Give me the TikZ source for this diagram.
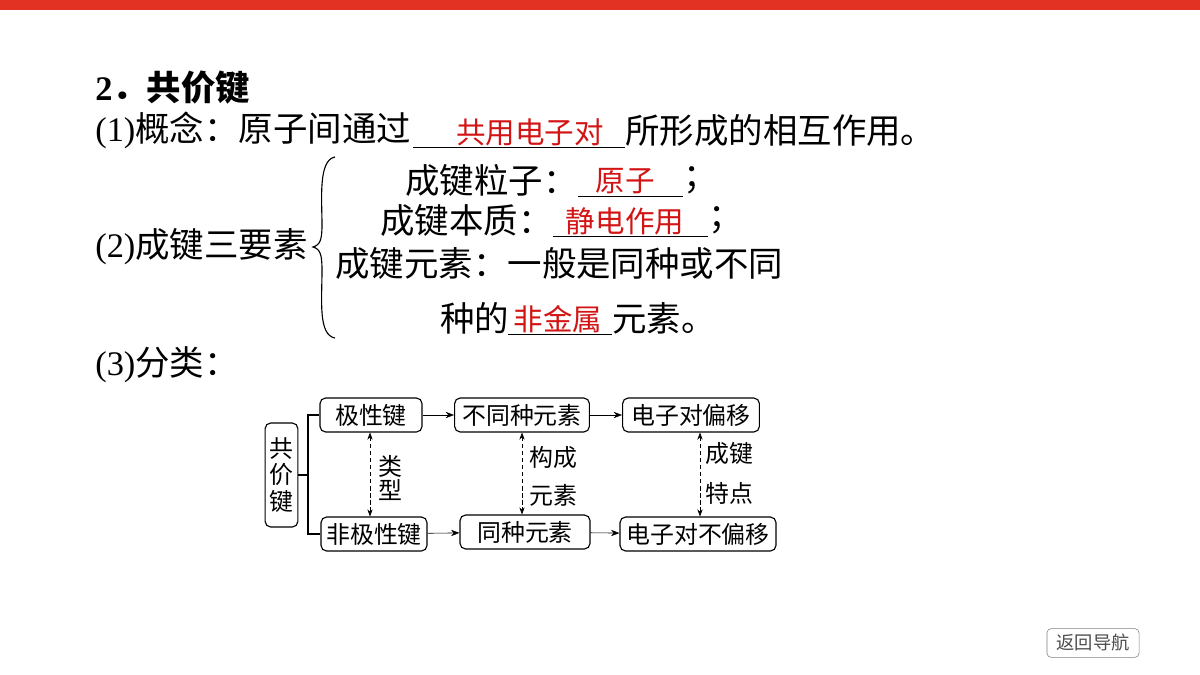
\documentclass[tikz,border=0pt]{standalone}
\usepackage{fontspec}
\setmainfont{Liberation Serif}
\newfontfamily\cjk{Noto Sans CJK SC}
\usetikzlibrary{arrows.meta}
\definecolor{barred}{RGB}{226,50,36}
\definecolor{ansred}{RGB}{210,20,20}
\newcommand{\lat}[1]{{\rmfamily #1}}
\tikzset{
	txt/.style={anchor=west, inner sep=0pt, font=\fontsize{24.5}{24.5}\selectfont\cjk},
	ans/.style={inner sep=0pt, text=ansred, font=\fontsize{21}{21}\selectfont\cjk},
	kbox/.style={draw, rounded corners=4pt, thick, inner sep=3pt, minimum height=0.85cm, font=\fontsize{17}{17}\selectfont\cjk},
	lbl/.style={inner sep=0pt, font=\fontsize{17}{17}\selectfont\cjk},
	dbl/.style={densely dashed, {Stealth[length=5pt]}-{Stealth[length=5pt]}},
	arr/.style={-{Stealth[length=6pt]}}
}
\begin{document}
\begin{tikzpicture}[x=0.025cm, y=-0.025cm]
	\useasboundingbox (0,0) rectangle (1200,675);
	\fill[barred] (0,0) rectangle (1200,10);

	% text part
	\node[txt, font=\fontsize{24.5}{24.5}\selectfont\cjk\bfseries] (title) at (95,88) {\lat{2}．共价键};
	\node[txt] (c1) at (95,130) {\lat{(1)}概念：原子间通过};
	\draw (413,147) -- (625,147);
	\node[ans] (a1) at (530,132) {共用电子对};
	\node[txt] (c1b) at (625,130) {所形成的相互作用。};

	\draw[thick] (335,157) .. controls (318,160) and (322,200) .. (322,225)
		.. controls (322,240) and (320,245) .. (313,247)
		.. controls (320,249) and (322,254) .. (322,270)
		.. controls (322,300) and (318,335) .. (335,338);
	\node[txt] (c2) at (95,247) {\lat{(2)}成键三要素};
	\node[txt] (e1) at (405,180) {成键粒子：};
	\draw (578,196) -- (683,196);
	\node[ans] (a2) at (625,181) {原子};
	\node[txt] (e1b) at (683,180) {；};
	\node[txt] (e2) at (380,220) {成键本质：};
	\draw (553,236) -- (708,236);
	\node[ans] (a3) at (625,221) {静电作用};
	\node[txt] (e2b) at (708,220) {；};
	\node[txt] (e3) at (335,263) {成键元素：一般是同种或不同};
	\node[txt] (e4) at (440,318) {种的};
	\draw (508,334) -- (612,334);
	\node[ans] (a4) at (558,319) {非金属};
	\node[txt] (e4b) at (612,318) {元素。};
	\node[txt] (c3) at (95,365) {\lat{(3)}分类：};

	% diagram
	\node[kbox, minimum width=0.82cm, minimum height=2.6cm, align=center, font=\fontsize{17}{19}\selectfont\cjk] (gj) at (281.5,475) {共\\价\\键};
	\node[kbox, minimum width=2.55cm] (jx) at (371,415) {极性键};
	\node[kbox, minimum width=3.37cm] (btz) at (522,415) {不同种元素};
	\node[kbox, minimum width=3.42cm] (py) at (691,415) {电子对偏移};
	\node[kbox, minimum width=2.65cm] (fjx) at (374,534) {非极性键};
	\node[kbox, minimum width=3.25cm] (tz) at (525,532) {同种元素};
	\node[kbox, minimum width=3.9cm] (bpy) at (698,534) {电子对不偏移};

	\draw[thick] (gj.east) -- (308,475);
	\draw[thick] (jx.west) -- (308,415) -- (308,534) -- (fjx.west);
	\draw[arr] (jx) -- (btz);
	\draw[arr] (btz) -- (py);
	\draw[arr] (fjx) -- (tz);
	\draw[arr] (tz) -- (bpy);
	\draw[dbl] (jx.south -| 370,0) -- (fjx.north -| 370,0);
	\draw[dbl] (btz.south) -- (tz.north -| btz.south);
	\draw[dbl] (py.south -| 700,0) -- (bpy.north -| 700,0);
	\node[lbl, align=center] (lx) at (390,478) {类\\型};
	\node[lbl] (gc1) at (553,457) {构成};
	\node[lbl] (gc2) at (553,495) {元素};
	\node[lbl] (cj1) at (729,453) {成键};
	\node[lbl] (cj2) at (729,493) {特点};

	\node[draw=gray, rounded corners=3pt, minimum width=2.3cm, minimum height=0.72cm, text=black!70, font=\fontsize{13}{13}\selectfont\cjk] (back) at (1093,643) {返回导航};
\end{tikzpicture}
\end{document}
